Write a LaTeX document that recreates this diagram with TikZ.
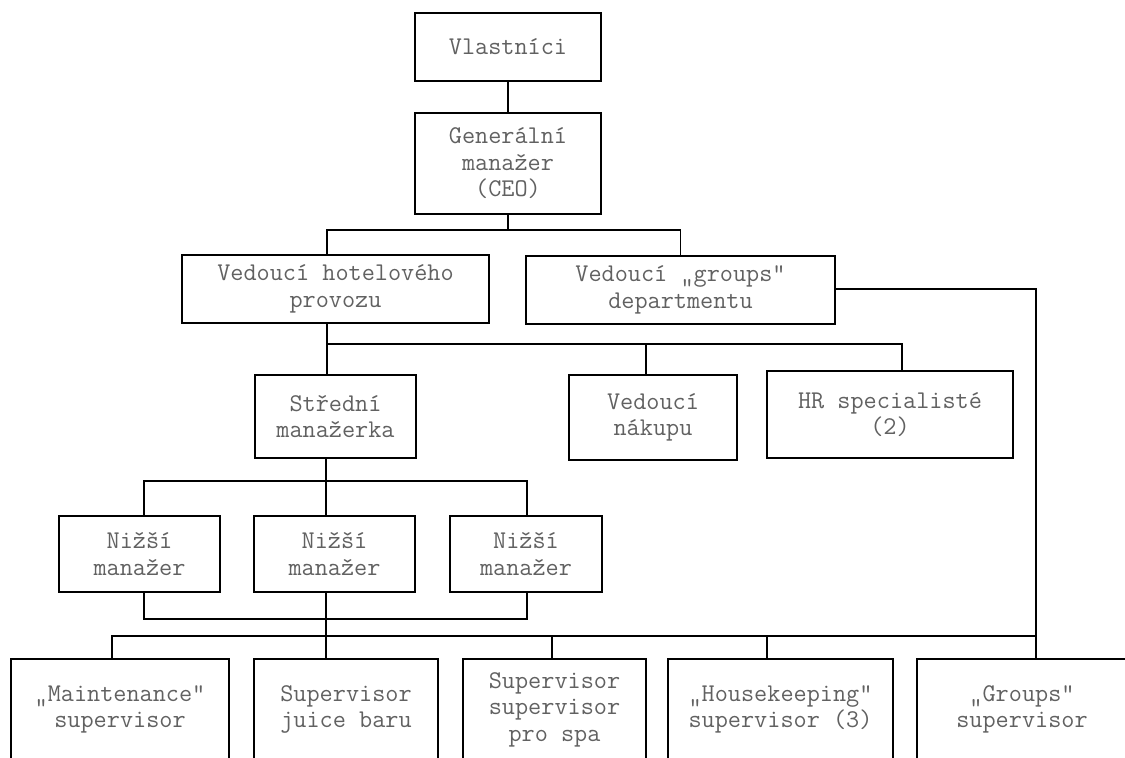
\documentclass[tikz,border=0pt]{standalone}
\usepackage{fontspec}
\newfontfamily\courfont{Latin Modern Mono}
\begin{document}
\begin{tikzpicture}[x=1pt,y=-1pt,
  box/.style={draw=black, line width=1.5pt, inner sep=0pt, align=center,
    font=\courfont\fontsize{25.5}{26.5}\selectfont, text=black!62},
  conn/.style={draw=black, line width=1.5pt}]
\useasboundingbox (0,0) rectangle (1125,758);
\clip (0,0) rectangle (1125,758);
% column coordinates
\coordinate (xh) at (327,0);
\coordinate (xm) at (326,0);
\coordinate (xn) at (646,0);
\coordinate (xhr) at (902,0);
\coordinate (xl) at (144,0);
\coordinate (xr) at (527,0);
\coordinate (xs1) at (112,0);
\coordinate (xs3) at (552,0);
\coordinate (xs4) at (767,0);
\coordinate (xg) at (1036,0);
\coordinate (ycb) at (0,230);
\coordinate (yhb) at (0,344);
\coordinate (ysb) at (0,481);
\coordinate (ynb) at (0,619);
\coordinate (yvb) at (0,636);
\coordinate (ygl) at (0,289);

\node[box, minimum width=186pt, minimum height=68pt] (own) at (508,47) {Vlastníci};
\node[box, minimum width=186pt, minimum height=101pt] (ceo) at (508,163.5) {Generální\\manažer\\(CEO)};
\node[box, minimum width=307pt, minimum height=68pt] (hotel) at (335.5,289) {Vedoucí hotelového\\provozu};
\node[box, minimum width=309pt, minimum height=68pt] (grp) at (680.5,290) {Vedoucí „groups“\\departmentu};
\node[box, minimum width=161pt, minimum height=83pt] (stred) at (335.5,416.5) {Střední\\manažerka};
\node[box, minimum width=168pt, minimum height=85pt] (nakup) at (653,417.5) {Vedoucí\\nákupu};
\node[box, minimum width=246pt, minimum height=87pt] (hr) at (890,414.5) {HR specialisté\\(2)};
\node[box, minimum width=161pt, minimum height=76pt] (n1) at (139.5,554) {Nižší\\manažer};
\node[box, minimum width=161pt, minimum height=76pt] (n2) at (334.5,554) {Nižší\\manažer};
\node[box, minimum width=152pt, minimum height=76pt] (n3) at (526,554) {Nižší\\manažer};
\node[box, minimum width=218pt, minimum height=101pt] (s1) at (120,709.5) {„Maintenance“\\supervisor};
\node[box, minimum width=184pt, minimum height=101pt] (s2) at (346,709.5) {Supervisor\\juice baru};
\node[box, minimum width=183pt, minimum height=101pt] (s3) at (554.5,709.5) {Supervisor\\supervisor\\pro spa};
\node[box, minimum width=225pt, minimum height=101pt] (s4) at (780.5,709.5) {„Housekeeping“\\supervisor (3)};
\node[box, minimum width=210pt, minimum height=101pt] (s5) at (1022,709.5) {„Groups“\\supervisor};

% owners -> CEO
\draw[conn] (own.south) -- (ceo.north);
% CEO -> level 2
\draw[conn] (ceo.south) -- (ceo.south |- ycb);
\draw[conn] (hotel.north -| xh) -- (xh |- ycb) -- (grp.north |- ycb) -- (grp.north);
% hotel -> level 3
\draw[conn] (hotel.south -| xh) -- (stred.north -| xh);
\draw[conn] (xh |- yhb) -- (xhr |- yhb) -- (hr.north -| xhr);
\draw[conn] (xn |- yhb) -- (nakup.north -| xn);
% stredni -> nizsi
\draw[conn] (stred.south -| xm) -- (n2.north -| xm);
\draw[conn] (n1.north -| xl) -- (xl |- ysb) -- (xr |- ysb) -- (n3.north -| xr);
% nizsi -> bottom bar
\draw[conn] (n1.south -| xl) -- (xl |- ynb) -- (xr |- ynb) -- (n3.south -| xr);
\draw[conn] (n2.south -| xm) -- (s2.north -| xm);
% supervisor bar
\draw[conn] (s1.north -| xs1) -- (xs1 |- yvb) -- (xg |- yvb);
\draw[conn] (xs3 |- yvb) -- (s3.north -| xs3);
\draw[conn] (xs4 |- yvb) -- (s4.north -| xs4);
% groups dept -> groups supervisor
\draw[conn] (grp.east |- ygl) -- (xg |- ygl) -- (s5.north -| xg);
\end{tikzpicture}
\end{document}
